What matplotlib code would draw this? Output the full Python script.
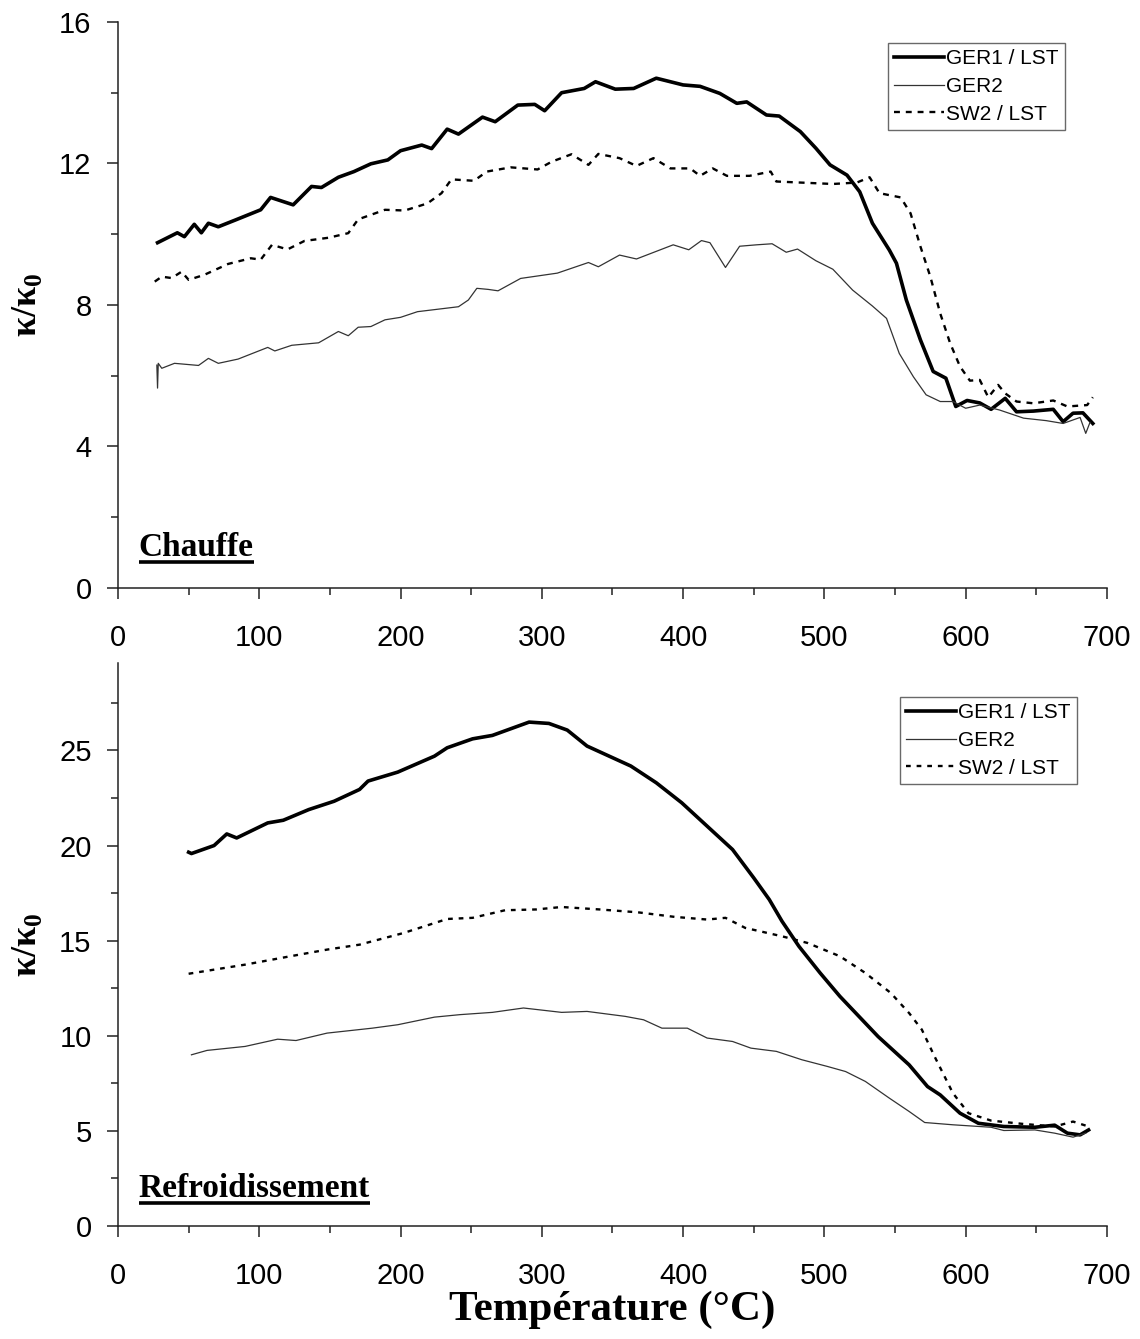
import numpy as np
import matplotlib
matplotlib.use("Agg")
import matplotlib.pyplot as plt
from matplotlib.ticker import MultipleLocator
from matplotlib.lines import Line2D

plt.rcParams['mathtext.fontset'] = 'custom'
plt.rcParams['mathtext.rm'] = 'Liberation Serif'
plt.rcParams['mathtext.bf'] = 'Liberation Serif:bold'

#---- Chauffe (heating) ----#
heat_ger1_t = [28, 42, 47, 54, 59, 64, 71, 83, 101, 108, 124, 137, 144, 156, 167, 179, 191, 200, 215,
               222, 233, 241, 258, 267, 283, 295, 302, 314, 330, 338, 352, 365, 381, 400, 412, 426, 438,
               445, 459, 468, 483, 494, 504, 516, 525, 534, 546, 551, 558, 568, 577, 586, 593, 601, 610,
               618, 628, 636, 648, 662, 669, 676, 683, 690]
heat_ger1_k = [9.76, 10.04, 9.93, 10.28, 10.04, 10.31, 10.21, 10.40, 10.69, 11.04, 10.83, 11.35, 11.32,
               11.61, 11.77, 11.99, 12.10, 12.36, 12.52, 12.42, 12.97, 12.83, 13.31, 13.18, 13.65, 13.67,
               13.49, 14.0, 14.12, 14.31, 14.10, 14.12, 14.41, 14.22, 14.18, 13.98, 13.70, 13.74, 13.37,
               13.34, 12.90, 12.43, 11.96, 11.67, 11.20, 10.31, 9.55, 9.18, 8.14, 7.01, 6.12, 5.93, 5.13,
               5.30, 5.23, 5.05, 5.36, 4.98, 5.0, 5.05, 4.70, 4.94, 4.95, 4.65]

heat_ger2_t = [27.5, 28, 28.5, 31, 40, 57, 64, 71, 85, 106, 111, 123, 142, 156, 163, 170, 179, 189, 200,
               212, 241, 248, 254, 262, 269, 285, 311, 333, 340, 355, 367, 393, 404, 413, 419, 430, 440,
               452, 463, 473, 481, 494, 506, 520, 534, 544, 553, 563, 572, 582, 591, 600, 610, 624, 641,
               657, 669, 681, 685, 688]
heat_ger2_k = [6.3, 5.65, 6.35, 6.21, 6.35, 6.29, 6.49, 6.35, 6.47, 6.80, 6.70, 6.86, 6.93, 7.25, 7.13,
               7.37, 7.39, 7.58, 7.65, 7.81, 7.95, 8.14, 8.47, 8.44, 8.40, 8.75, 8.90, 9.20, 9.08, 9.41,
               9.30, 9.70, 9.56, 9.82, 9.76, 9.06, 9.66, 9.70, 9.73, 9.49, 9.58, 9.25, 9.01, 8.42, 7.97,
               7.62, 6.63, 5.97, 5.46, 5.27, 5.27, 5.08, 5.17, 5.03, 4.80, 4.73, 4.65, 4.82, 4.37, 4.68]

heat_sw2_t = [26, 31, 38, 45, 50, 61, 78, 94, 101, 109, 120, 132, 149, 163, 170, 189, 203, 219, 229,
              236, 252, 261, 278, 297, 307, 321, 333, 340, 355, 367, 379, 391, 405, 412, 421, 431, 447,
              462, 466, 483, 506, 523, 532, 539, 554, 561, 568, 575, 582, 589, 596, 603, 610, 616, 623,
              628, 636, 648, 662, 672, 686, 690]
heat_sw2_k = [8.66, 8.80, 8.76, 8.94, 8.71, 8.85, 9.16, 9.32, 9.28, 9.70, 9.57, 9.81, 9.90, 10.03,
              10.42, 10.69, 10.67, 10.87, 11.16, 11.55, 11.51, 11.77, 11.89, 11.83, 12.05, 12.26, 11.96,
              12.27, 12.15, 11.93, 12.15, 11.86, 11.86, 11.65, 11.86, 11.65, 11.65, 11.77, 11.49, 11.46,
              11.42, 11.46, 11.61, 11.16, 11.04, 10.59, 9.65, 8.80, 7.76, 6.92, 6.26, 5.86, 5.88, 5.39,
              5.74, 5.50, 5.27, 5.22, 5.30, 5.13, 5.17, 5.39]

#---- Refroidissement (cooling) ----#
cool_ger1_t = [50, 52, 68, 77, 84, 106, 117, 135, 153, 171, 177, 198, 224, 233, 251, 265, 278, 291,
               305, 318, 332, 345, 363, 381, 399, 417, 435, 450, 461, 470, 482, 497, 511, 538, 560, 573,
               582, 596, 609, 627, 649, 663, 672, 681, 687]
cool_ger1_k = [19.65, 19.58, 20.0, 20.61, 20.40, 21.19, 21.33, 21.89, 22.33, 22.95, 23.39, 23.86,
               24.70, 25.14, 25.61, 25.79, 26.14, 26.49, 26.42, 26.07, 25.23, 24.79, 24.18, 23.30,
               22.25, 21.02, 19.79, 18.30, 17.16, 16.02, 14.70, 13.30, 12.07, 9.96, 8.47, 7.33, 6.89,
               5.93, 5.40, 5.23, 5.19, 5.30, 4.88, 4.79, 5.05]

cool_ger2_t = [52, 63, 90, 113, 126, 148, 180, 198, 224, 242, 265, 287, 314, 332, 359, 372, 385, 403,
               417, 435, 448, 466, 484, 502, 515, 529, 546, 560, 571, 591, 618, 627, 649, 663, 676, 685]
cool_ger2_k = [9.0, 9.23, 9.44, 9.82, 9.75, 10.14, 10.40, 10.58, 10.98, 11.11, 11.23, 11.46, 11.23,
               11.28, 11.02, 10.84, 10.40, 10.40, 9.88, 9.70, 9.35, 9.18, 8.74, 8.39, 8.12, 7.60, 6.72,
               6.02, 5.44, 5.32, 5.19, 5.02, 5.05, 4.88, 4.67, 4.88]

cool_sw2_t = [50, 90, 122, 148, 171, 202, 233, 251, 274, 296, 314, 341, 368, 394, 417, 430, 444, 470,
              488, 511, 529, 547, 560, 569, 578, 591, 602, 618, 640, 663, 676, 687]
cool_sw2_k = [13.26, 13.74, 14.18, 14.53, 14.79, 15.40, 16.14, 16.20, 16.60, 16.64, 16.77, 16.64,
              16.49, 16.25, 16.11, 16.20, 15.67, 15.23, 14.88, 14.18, 13.30, 12.25, 11.19, 10.32, 8.91,
              6.98, 5.93, 5.54, 5.37, 5.23, 5.49, 5.23]

labels = ['GER1 / LST', 'GER2', 'SW2 / LST']

fig = plt.figure(figsize=(11.4, 13.39), dpi=100)
ax1 = fig.add_axes([0.1035, 0.5609, 0.8675, 0.4227])
ax2 = fig.add_axes([0.1035, 0.0844, 0.8675, 0.4205])

panels = [
    (ax1, heat_ger1_t, heat_ger1_k, heat_ger2_t, heat_ger2_k, heat_sw2_t, heat_sw2_k,
     (0, 16), 4, 2, 'Chauffe', 0.057, (0.9575, 0.963), (2.5, 2.5)),
    (ax2, cool_ger1_t, cool_ger1_k, cool_ger2_t, cool_ger2_k, cool_sw2_t, cool_sw2_k,
     (0, 29.6), 5, 2.5, 'Refroidissement', 0.052, (0.9697, 0.9396), (2.0, 2.5)),
]

titles = []
for ax, g1t, g1k, g2t, g2k, swt, swk, ylim, ymaj, ymin, title, ty, leg_pos, dash in panels:
    ax.plot(g1t, g1k, color='black', lw=2.6, label=labels[0])
    ax.plot(g2t, g2k, color='#333333', lw=0.9, label=labels[1])
    ax.plot(swt, swk, color='black', lw=1.7, ls=(0, dash), label=labels[2])

    ax.set_xlim(0, 700)
    ax.set_ylim(*ylim)
    ax.xaxis.set_major_locator(MultipleLocator(100))
    ax.xaxis.set_minor_locator(MultipleLocator(50))
    ax.yaxis.set_major_locator(MultipleLocator(ymaj))
    ax.yaxis.set_minor_locator(MultipleLocator(ymin))
    for s in ['top', 'right']:
        ax.spines[s].set_visible(False)
    for s in ['left', 'bottom']:
        ax.spines[s].set_linewidth(1.1)
        ax.spines[s].set_color('#222222')
    ax.tick_params(which='major', length=8, width=1.1, color='#222222', labelsize=21)
    ax.tick_params(which='minor', length=5, width=1.1, color='#222222')
    ax.tick_params(axis='x', which='major', pad=18)
    ax.tick_params(axis='y', which='major', pad=11)
    for lab in ax.get_xticklabels() + ax.get_yticklabels():
        lab.set_family('Liberation Sans')

    ax.set_ylabel('κ/κ$_\\mathbf{0}$', family='Liberation Serif', fontweight='bold', fontsize=26)
    ax.yaxis.set_label_coords(-0.075, 0.5)

    leg = ax.legend(loc='upper right', bbox_to_anchor=leg_pos, borderaxespad=0,
                    prop={'family': 'Liberation Sans', 'size': 15}, frameon=True, fancybox=False,
                    handlelength=2.4, handletextpad=0.1, labelspacing=0.42, borderpad=0.3)
    leg.get_frame().set_edgecolor('#444444')
    leg.get_frame().set_linewidth(1.0)

    t = ax.text(0.021, ty, title, transform=ax.transAxes, family='Liberation Serif',
                fontweight='bold', fontsize=24, va='baseline', ha='left')
    titles.append((ax, t, ty))

ax2.set_xlabel('Température (°C)', family='Liberation Serif', fontweight='bold', fontsize=31,
               labelpad=0)

# underline the panel titles, a few pixels under the baseline
fig.canvas.draw()
r = fig.canvas.get_renderer()
for ax, t, ty in titles:
    bb = t.get_window_extent(r).transformed(ax.transAxes.inverted())
    h_px = ax.get_window_extent(r).height
    y_u = ty - 6.5 / h_px
    ax.add_line(Line2D([bb.x0, bb.x1], [y_u, y_u], transform=ax.transAxes,
                       color='black', lw=2.6, solid_capstyle='butt', clip_on=False))

fig.savefig('out.png', dpi=100)
